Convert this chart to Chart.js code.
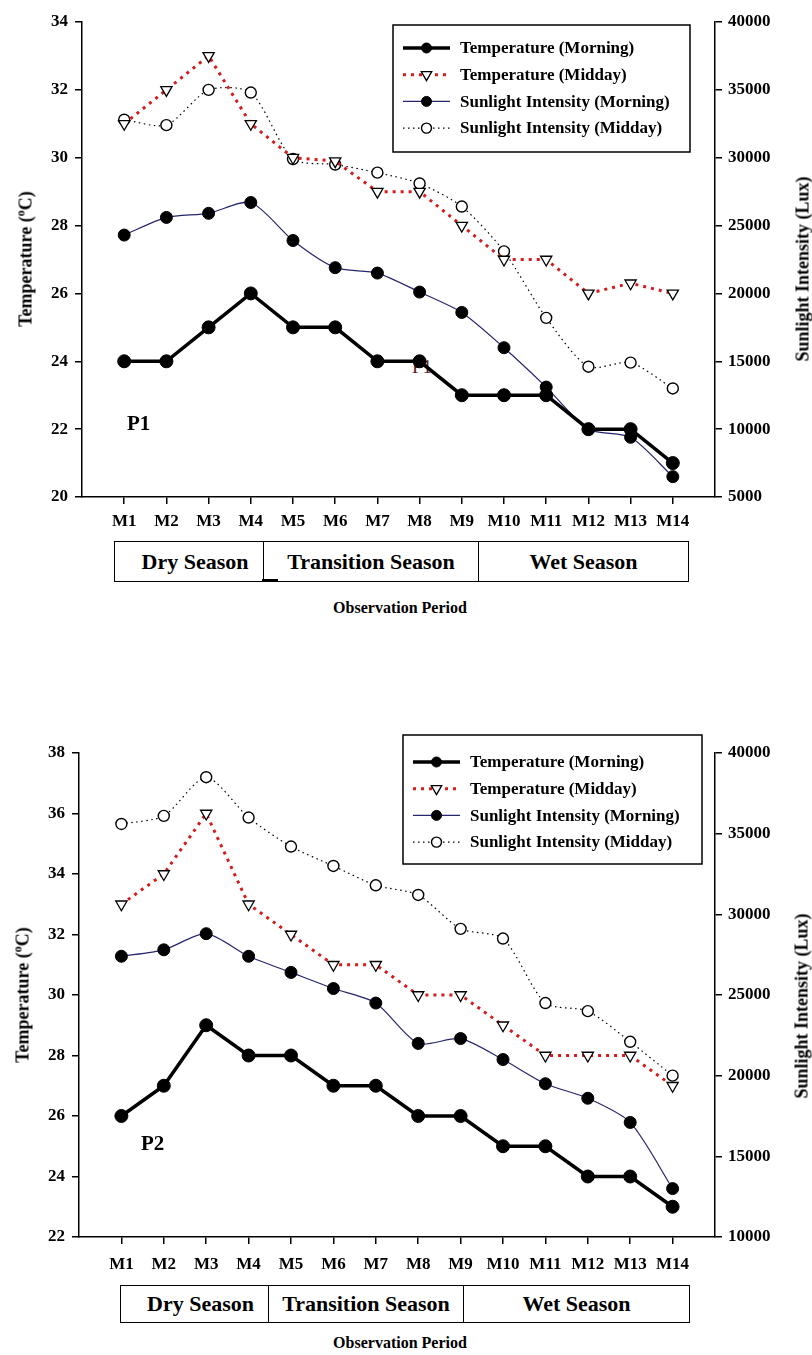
<!DOCTYPE html>
<html lang="en">
<head>
    <meta charset="UTF-8">
    <title>Temperature and Sunlight Intensity, P1 and P2</title>
    <script src="https://cdn.jsdelivr.net/npm/chart.js"></script>
    <style>
        body { margin: 0; background: #fff; font-family: "Liberation Serif", "Times New Roman", serif; }
        #page { position: relative; width: 812px; height: 1355px; overflow: hidden; }
        canvas { position: absolute; left: 0; }
        .txt { position: absolute; font-weight: bold; color: #000; white-space: nowrap; }
        .vtitle { position: absolute; font-weight: bold; font-size: 18px; white-space: nowrap; transform: translate(-50%, -50%) rotate(-90deg); }
        .vtitle sup { font-size: 12px; }
        .seasons { position: absolute; display: flex; border: 1.5px solid #000; box-sizing: border-box; }
        .seasons div { display: flex; align-items: center; justify-content: center; font-weight: bold; font-size: 22px; box-sizing: border-box; }
        .seasons div + div { border-left: 1.5px solid #000; }
        .xtitle { position: absolute; left: 0; width: 800px; text-align: center; font-weight: bold; font-size: 16px; }
    </style>
</head>
<body>
<div id="page">
    <div class="txt" style="left:412px; top:356px; font-size:19px; font-weight:normal; color:#5a1c1c;">P1</div>
    <canvas id="chartP1" width="812" height="540" style="top:0"></canvas>
    <div class="txt" style="left:127px; top:411px; font-size:21px;">P1</div>
    <div class="vtitle" style="left:25px; top:259px;">Temperature (<sup>o</sup>C)</div>
    <div class="vtitle" style="left:803px; top:269px;">Sunlight Intensity (Lux)</div>
    <div class="seasons" style="left:114px; top:541px; width:575px; height:41px;">
        <div style="width:148px; padding-left:12px;">Dry Season</div>
        <div style="width:215px;">Transition Season</div>
        <div style="flex:1;">Wet Season</div>
    </div>
    <div style="position:absolute; left:262px; top:579px; width:16px; height:2.5px; background:#000;"></div>
    <div class="xtitle" style="top:599px;">Observation Period</div>

    <canvas id="chartP2" width="812" height="560" style="top:720px"></canvas>
    <div class="txt" style="left:141px; top:1131px; font-size:21px;">P2</div>
    <div class="vtitle" style="left:22px; top:995px;">Temperature (<sup>o</sup>C)</div>
    <div class="vtitle" style="left:802px; top:1006px;">Sunlight Intensity (Lux)</div>
    <div class="seasons" style="left:120px; top:1285px; width:570px; height:38px;">
        <div style="width:147px; padding-left:12px;">Dry Season</div>
        <div style="width:195px;">Transition Season</div>
        <div style="flex:1;">Wet Season</div>
    </div>
    <div class="xtitle" style="top:1334px;">Observation Period</div>
</div>

<script>
    // observation months
    const months = ['M1', 'M2', 'M3', 'M4', 'M5', 'M6', 'M7', 'M8', 'M9', 'M10', 'M11', 'M12', 'M13', 'M14'];

    // P1
    const p1TempMorning = [24, 24, 25, 26, 25, 25, 24, 24, 23, 23, 23, 22, 22, 21];
    const p1TempMidday = [31, 32, 33, 31, 30, 29.9, 29, 29, 28, 27, 27, 26, 26.3, 26];
    const p1SunMorning = [24300, 25600, 25900, 26700, 23900, 21900, 21500, 20100, 18600, 16000, 13100, 10000, 9400, 6500];
    const p1SunMidday = [32800, 32400, 35000, 34800, 29900, 29500, 28900, 28100, 26400, 23100, 18200, 14600, 14900, 13000];

    // P2
    const p2TempMorning = [26, 27, 29, 28, 28, 27, 27, 26, 26, 25, 25, 24, 24, 23];
    const p2TempMidday = [33, 34, 36, 33, 32, 31, 31, 30, 30, 29, 28, 28, 28, 27];
    const p2SunMorning = [27400, 27800, 28800, 27400, 26400, 25400, 24500, 22000, 22300, 21000, 19500, 18600, 17100, 13000];
    const p2SunMidday = [35600, 36100, 38500, 36000, 34200, 33000, 31800, 31200, 29100, 28500, 24500, 24000, 22100, 20000];

    // axis ranges: min, max, step
    const p1TempTicks = [20, 34, 2];
    const p1SunTicks = [5000, 40000, 5000];
    const p2TempTicks = [22, 38, 2];
    const p2SunTicks = [10000, 40000, 5000];

    const serif = '"Liberation Serif", "Times New Roman", serif';
    Chart.defaults.font.family = serif;
    Chart.defaults.font.weight = 'bold';
    Chart.defaults.font.size = 17;
    Chart.defaults.color = '#000';

    function series(vals) {
        return vals.map((v, i) => ({ x: i + 1, y: v }));
    }

    function drawMarker(ctx, ds, x, y) {
        const r = ds.legendRadius;
        ctx.beginPath();
        if (ds.pointStyle === 'triangle') {
            ctx.moveTo(x - r * 0.87, y - r * 0.5);
            ctx.lineTo(x + r * 0.87, y - r * 0.5);
            ctx.lineTo(x, y + r);
            ctx.closePath();
        } else {
            ctx.arc(x, y, r, 0, Math.PI * 2);
        }
        ctx.fillStyle = ds.pointBackgroundColor;
        ctx.fill();
        ctx.lineWidth = ds.pointBorderWidth;
        ctx.strokeStyle = ds.pointBorderColor;
        ctx.stroke();
    }

    const boxLegend = {
        id: 'boxLegend',
        afterDraw(chart, args, opts) {
            const ctx = chart.ctx;
            ctx.save();
            ctx.fillStyle = '#fff';
            ctx.fillRect(opts.x, opts.y, opts.w, opts.h);
            ctx.strokeStyle = '#000';
            ctx.lineWidth = 1.5;
            ctx.strokeRect(opts.x, opts.y, opts.w, opts.h);
            chart.data.datasets.forEach((ds, i) => {
                const y = opts.y + opts.first + i * opts.step;
                const x0 = opts.x + 10, x1 = opts.x + 57;
                ctx.beginPath();
                ctx.setLineDash(ds.borderDash || []);
                ctx.lineWidth = ds.borderWidth;
                ctx.strokeStyle = ds.borderColor;
                ctx.moveTo(x0, y);
                ctx.lineTo(x1, y);
                ctx.stroke();
                ctx.setLineDash([]);
                drawMarker(ctx, ds, (x0 + x1) / 2, y);
                ctx.fillStyle = '#000';
                ctx.font = 'bold 17px ' + serif;
                ctx.textBaseline = 'middle';
                ctx.fillText(ds.label, opts.x + 67, y + 1);
            });
            ctx.restore();
        }
    };

    function makeDatasets(tm, td, sm, sd) {
        return [
            {
                label: 'Temperature (Morning)', data: series(tm), yAxisID: 'y',
                borderColor: '#000', borderWidth: 3.5, tension: 0,
                pointStyle: 'circle', pointRadius: 6.5, pointBackgroundColor: '#000',
                pointBorderColor: '#000', pointBorderWidth: 1, legendRadius: 5
            },
            {
                label: 'Temperature (Midday)', data: series(td), yAxisID: 'y',
                borderColor: '#d41c1c', borderWidth: 3, borderDash: [3, 5], tension: 0,
                pointStyle: 'triangle', pointRotation: 180, pointRadius: 6.5,
                pointBackgroundColor: '#fff', pointBorderColor: '#000', pointBorderWidth: 1.3, legendRadius: 6
            },
            {
                label: 'Sunlight Intensity (Morning)', data: series(sm), yAxisID: 'y1',
                borderColor: '#26266e', borderWidth: 1.2, tension: 0.25,
                pointStyle: 'circle', pointRadius: 6, pointBackgroundColor: '#000',
                pointBorderColor: '#000', pointBorderWidth: 1, legendRadius: 5
            },
            {
                label: 'Sunlight Intensity (Midday)', data: series(sd), yAxisID: 'y1',
                borderColor: '#000', borderWidth: 1.2, borderDash: [1.5, 3.5], tension: 0.25,
                pointStyle: 'circle', pointRadius: 5.5, pointBackgroundColor: '#fff',
                pointBorderColor: '#000', pointBorderWidth: 1.4, legendRadius: 5
            }
        ];
    }

    const tickGrid = { drawOnChartArea: false, drawTicks: true, tickLength: 7, color: '#000', lineWidth: 1.5 };
    const axisBorder = { display: true, color: '#000', width: 1.5 };

    function makeChart(id, datasets, tempTicks, sunTicks, box) {
        new Chart(document.getElementById(id), {
            type: 'line',
            data: { datasets: datasets },
            plugins: [boxLegend],
            options: {
                responsive: false,
                animation: false,
                devicePixelRatio: 1,
                layout: { padding: { top: box.top, left: 0, right: 0, bottom: 0 } },
                plugins: {
                    legend: { display: false },
                    tooltip: { enabled: false },
                    boxLegend: box.legend
                },
                scales: {
                    x: {
                        type: 'linear', min: 0, max: 15,
                        grid: tickGrid, border: axisBorder,
                        ticks: { stepSize: 1, padding: box.xPad, autoSkip: false, maxRotation: 0,
                                 callback: v => months[v - 1] },
                        afterBuildTicks: s => { s.ticks = s.ticks.filter(t => t.value >= 1 && t.value <= 14); },
                        afterFit: s => { s.height = box.xHeight; }
                    },
                    y: {
                        position: 'left', min: tempTicks[0], max: tempTicks[1],
                        grid: tickGrid, border: axisBorder,
                        ticks: { stepSize: tempTicks[2], padding: 7 },
                        afterFit: s => { s.width = box.left; }
                    },
                    y1: {
                        position: 'right', min: sunTicks[0], max: sunTicks[1],
                        grid: tickGrid, border: axisBorder,
                        ticks: { stepSize: sunTicks[2], padding: 6, callback: v => String(v) },
                        afterFit: s => { s.width = 812 - box.right; }
                    }
                }
            }
        });
    }

    makeChart('chartP1', makeDatasets(p1TempMorning, p1TempMidday, p1SunMorning, p1SunMidday),
        p1TempTicks, p1SunTicks,
        { top: 22, left: 82, right: 715, xHeight: 43, xPad: 7,
          legend: { x: 393, y: 25, w: 297, h: 127, first: 23, step: 26.7 } });

    makeChart('chartP2', makeDatasets(p2TempMorning, p2TempMidday, p2SunMorning, p2SunMidday),
        p2TempTicks, p2SunTicks,
        { top: 33, left: 79, right: 715, xHeight: 43, xPad: 10,
          legend: { x: 403, y: 15, w: 299, h: 129, first: 27, step: 26.7 } });
</script>
</body>
</html>
